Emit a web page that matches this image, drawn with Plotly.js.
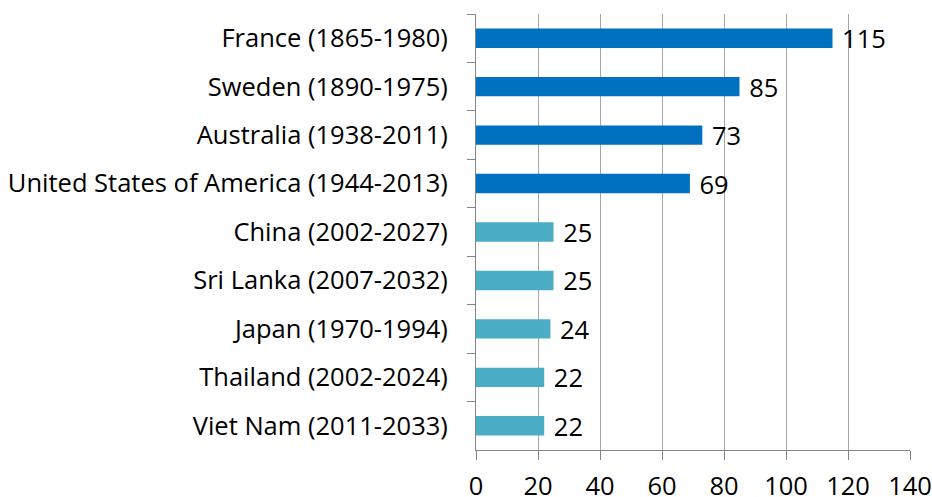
<!DOCTYPE html>
<html>
<head>
<meta charset="utf-8">
<script src="https://cdn.plot.ly/plotly-3.0.1.min.js"></script>
<style>html,body{margin:0;padding:0;background:#fff;}#chart{width:932px;height:497px;}</style>
</head>
<body>
<div id="chart"></div>
<script>
const categories = ["France (1865-1980)", "Sweden (1890-1975)", "Australia (1938-2011)", "United States of America (1944-2013)", "China (2002-2027)", "Sri Lanka (2007-2032)", "Japan (1970-1994)", "Thailand (2002-2024)", "Viet Nam (2011-2033)"];
const years = [115, 85, 73, 69, 25, 25, 24, 22, 22];
const group = ["past", "past", "past", "past", "future", "future", "future", "future", "future"];
const xTicks = [0, 20, 40, 60, 80, 100, 120, 140];

const groupColor = {past: "#0070C0", future: "#4BACC6"};
const font = "'Open Sans', sans-serif";
const fs = 25.5;

Plotly.newPlot("chart", [{
  type: "bar",
  orientation: "h",
  y: categories,
  x: years,
  marker: {color: group.map(g => groupColor[g])},
  text: years.map(v => " " + v),
  textposition: "outside",
  constraintext: "none",
  cliponaxis: false,
  textfont: {family: font, size: fs, color: "#000"},
  hoverinfo: "none"
}], {
  width: 932, height: 497,
  margin: {l: 476, r: 22, t: 14, b: 47},
  paper_bgcolor: "#fff", plot_bgcolor: "#fff",
  bargap: 0.6,
  showlegend: false,
  font: {family: font, size: fs, color: "#000"},
  xaxis: {
    range: [0, 140], tickvals: xTicks, ticktext: xTicks.map(String),
    showgrid: true, gridcolor: "#A6A6A6", gridwidth: 1,
    showline: true, linecolor: "#868686", linewidth: 1,
    ticks: "outside", ticklen: 9, tickcolor: "#868686",
    ticklabelstandoff: 4,
    zeroline: false, fixedrange: true,
    tickfont: {family: font, size: fs, color: "#000"}
  },
  yaxis: {
    autorange: "reversed", type: "category",
    showline: true, linecolor: "#868686", linewidth: 1,
    ticks: "outside", ticklen: 8, tickcolor: "#868686", tickson: "boundaries",
    showgrid: false, zeroline: false, fixedrange: true,
    ticklabelstandoff: 22,
    tickfont: {family: font, size: fs, color: "#000"}
  }
}, {staticPlot: true});
</script>
</body>
</html>
